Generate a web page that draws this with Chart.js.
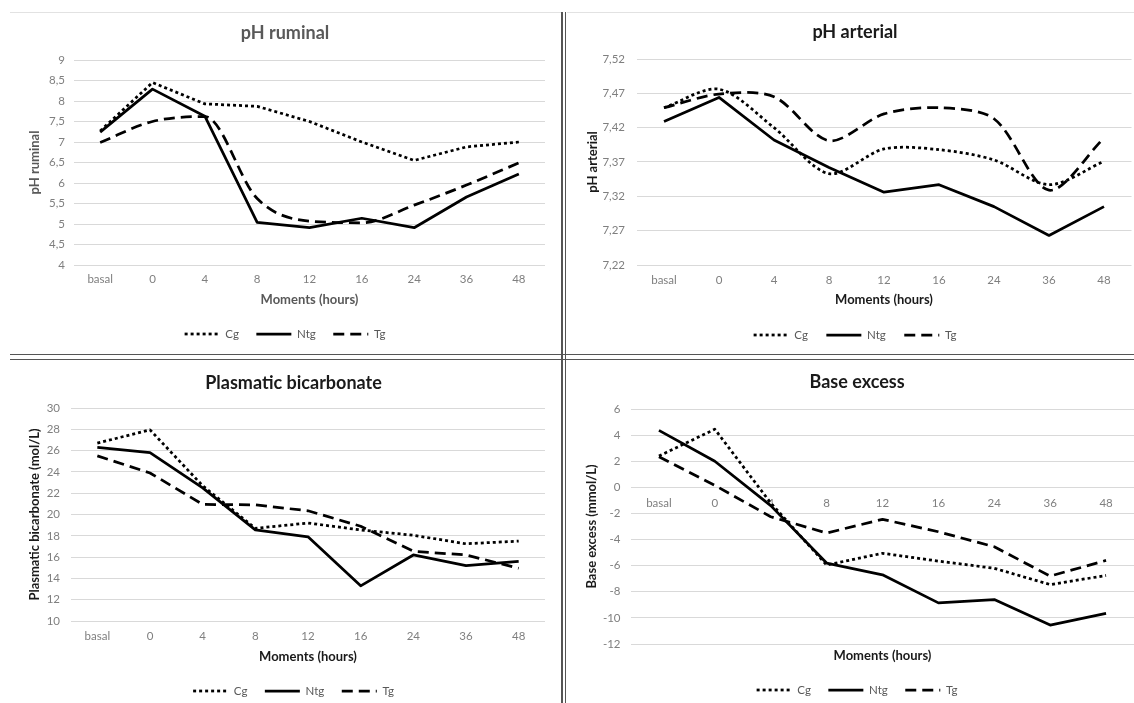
<!DOCTYPE html>
<html><head><meta charset="utf-8">
<script src="https://cdn.jsdelivr.net/npm/chart.js@4.4.1/dist/chart.umd.min.js"></script>
<style>
html,body{margin:0;padding:0;background:#fff;width:1134px;height:703px;overflow:hidden;}
.panel{position:absolute;}
.rule{position:absolute;}
</style></head><body>
<div class="rule" style="left:10px;top:12px;width:551px;height:1px;background:#e2e2e2"></div>
<div class="rule" style="left:567px;top:12px;width:567px;height:1px;background:#e2e2e2"></div>
<div class="rule" style="left:561px;top:12px;width:1.5px;height:691px;background:#555"></div>
<div class="rule" style="left:564.5px;top:12px;width:1.5px;height:691px;background:#555"></div>
<div class="rule" style="left:10px;top:353.5px;width:1124px;height:1.5px;background:#555"></div>
<div class="rule" style="left:10px;top:358.5px;width:1124px;height:1.5px;background:#555"></div>

<div class="panel" style="left:0;top:13px;width:561px;height:340px"><canvas id="c1"></canvas></div>
<div class="panel" style="left:566px;top:13px;width:568px;height:340px"><canvas id="c2"></canvas></div>
<div class="panel" style="left:0;top:361px;width:561px;height:342px"><canvas id="c3"></canvas></div>
<div class="panel" style="left:566px;top:361px;width:568px;height:342px"><canvas id="c4"></canvas></div>

<script>
// ---------- data ----------
const moments = ['basal', '0', '4', '8', '12', '16', '24', '36', '48'];
const seriesNames = ['Cg', 'Ntg', 'Tg'];

const ruminalCg  = [7.27, 8.45, 7.93, 7.87, 7.50, 7.00, 6.55, 6.88, 7.00];
const ruminalNtg = [7.24, 8.29, 7.63, 5.04, 4.91, 5.14, 4.91, 5.66, 6.22];
const ruminalTg  = [6.99, 7.50, 7.62, 5.62, 5.07, 5.03, 5.46, 5.95, 6.49];
const ruminalTicks = [4, 4.5, 5, 5.5, 6, 6.5, 7, 7.5, 8, 8.5, 9];

const arterialCg  = [7.449, 7.476, 7.420, 7.353, 7.389, 7.388, 7.373, 7.337, 7.371];
const arterialNtg = [7.429, 7.464, 7.402, 7.362, 7.326, 7.337, 7.305, 7.263, 7.305];
const arterialTg  = [7.449, 7.469, 7.465, 7.401, 7.440, 7.449, 7.433, 7.329, 7.405];
const arterialTicks = [7.22, 7.27, 7.32, 7.37, 7.42, 7.47, 7.52];

const bicarbCg  = [26.7, 27.95, 22.7, 18.7, 19.2, 18.55, 18.05, 17.25, 17.5];
const bicarbNtg = [26.3, 25.8, 22.5, 18.55, 17.9, 13.3, 16.2, 15.2, 15.6];
const bicarbTg  = [25.5, 23.9, 20.95, 20.9, 20.35, 18.9, 16.55, 16.2, 14.95];
const bicarbTicks = [10, 12, 14, 16, 18, 20, 22, 24, 26, 28, 30];

const baseCg  = [2.4, 4.45, -1.2, -5.95, -5.05, -5.65, -6.2, -7.45, -6.75];
const baseNtg = [4.36, 2.0, -1.4, -5.8, -6.7, -8.85, -8.6, -10.55, -9.65];
const baseTg  = [2.35, 0.15, -2.25, -3.5, -2.45, -3.4, -4.55, -6.8, -5.6];
const baseTicks = [-12, -10, -8, -6, -4, -2, 0, 2, 4, 6];

// ---------- styling / builder ----------
const FAM = 'Lato, "Open Sans", sans-serif';
const LINE_W = 2.75;
const lineStyles = [
  { borderDash: [3, 3], borderCapStyle: 'butt' },
  { borderDash: [], borderCapStyle: 'butt' },
  { borderDash: [11, 6], borderCapStyle: 'butt' }
];
const comma = v => String(+v.toFixed(2)).replace('.', ',');

function build(id, g, d) {
  const TF = 18, TLH = TF * 1.2;
  const AF = 13, ALH = AF * 1.2;
  const KF = 11.5, KLH = KF * 1.2;
  const LF = 11.5;
  const lpad = g.lpad !== undefined ? g.lpad : 2 * g.titleX - g.areaR;
  const rpad = g.W - g.areaR;
  const tPadTop = g.titleY - TLH / 2;
  const tPadBot = g.areaT - tPadTop - TLH;
  const yWidth = g.areaL - lpad;
  const yTitlePad = g.yTitleX - lpad - ALH / 2;
  const yTickPad = g.areaL - g.tickRight;
  let xTickPad;
  const xTitlePadBot = 3;
  const Hx = g.xTitleY - g.areaB + ALH / 2 + xTitlePadBot;
  if (g.zeroAxis) {
    const zeroPix = g.areaT + (d.yMax - 0) / (d.yMax - d.yMin) * (g.areaB - g.areaT);
    xTickPad = g.xLabelY - zeroPix - KLH / 2;
  } else {
    xTickPad = g.xLabelY - g.areaB - KLH / 2;
  }
  const legTop = g.areaB + Hx;
  const legPad = g.legendY - legTop - LF / 2;
  const natural = LF + legPad + 10;
  const avail = g.H - legTop;
  const legH = Math.min(natural, avail);
  const botPad = avail - legH;

  const tickFont = { family: FAM, size: KF };
  const axisTitleFont = { family: FAM, size: AF, weight: 'bold' };

  const scales = {
    y: {
      min: d.yMin, max: d.yMax,
      afterBuildTicks: s => { s.ticks = d.ticks.map(v => ({ value: v })); },
      afterFit: s => { s.width = yWidth; },
      grid: { color: '#d9d9d9', lineWidth: 1, drawTicks: false },
      border: { display: false },
      ticks: { color: '#7f7f7f', font: tickFont, padding: yTickPad, crossAlign: 'near', callback: v => comma(v) },
      title: { display: true, text: d.yTitle, color: d.axisColor, font: axisTitleFont, padding: { top: yTitlePad, bottom: 0 } }
    }
  };
  const xTitle = { display: true, text: 'Moments (hours)', color: d.axisColor, font: axisTitleFont, padding: { top: 0, bottom: xTitlePadBot } };
  if (g.zeroAxis) {
    scales.x = {
      position: { y: 0 }, offset: true,
      grid: { display: false, drawTicks: false }, border: { display: false },
      ticks: { color: '#7f7f7f', font: tickFont, padding: xTickPad, maxRotation: 0, autoSkip: false },
      title: { display: false }
    };
    scales.x2 = {
      type: 'category', labels: moments, position: 'bottom', offset: true,
      grid: { display: false, drawTicks: false }, border: { display: false },
      ticks: { display: false },
      title: xTitle,
      afterFit: s => { s.height = Hx; }
    };
  } else {
    scales.x = {
      offset: true,
      grid: { display: false, drawTicks: false }, border: { display: false },
      ticks: { color: '#7f7f7f', font: tickFont, padding: xTickPad, maxRotation: 0, autoSkip: false },
      title: xTitle,
      afterFit: s => { s.height = Hx; }
    };
  }

  return new Chart(document.getElementById(id), {
    type: 'line',
    data: {
      labels: moments,
      datasets: d.series.map((vals, i) => Object.assign({
        label: seriesNames[i], data: vals, xAxisID: 'x', yAxisID: 'y',
        borderColor: '#000', backgroundColor: 'rgba(0,0,0,0)', borderWidth: LINE_W,
        pointRadius: 0, pointHoverRadius: 0, fill: false, borderJoinStyle: 'round',
        tension: d.tension[i], cubicInterpolationMode: d.mono && d.mono[i] ? 'monotone' : 'default'
      }, lineStyles[i]))
    },
    options: {
      responsive: true, maintainAspectRatio: false, animation: false, events: [],
      layout: { padding: { left: lpad, right: rpad, top: 0, bottom: botPad } },
      plugins: {
        title: { display: true, text: d.title, color: d.titleColor, font: { family: FAM, size: TF, weight: 'bold', lineHeight: 1.2 }, padding: { top: tPadTop, bottom: tPadBot } },
        legend: { position: 'bottom', maxHeight: legH,
          labels: {
            usePointStyle: true, pointStyle: 'line', pointStyleWidth: 35, padding: legPad, color: '#595959', font: { family: FAM, size: LF },
            generateLabels: chart => chart.data.datasets.map((ds, i) => ({
              text: ds.label, datasetIndex: i, hidden: false,
              fillStyle: 'rgba(0,0,0,0)', strokeStyle: '#000', lineWidth: LINE_W,
              lineDash: ds.borderDash, lineDashOffset: 0, lineCap: 'butt', lineJoin: 'miter',
              pointStyle: 'line', rotation: 0, fontColor: '#595959'
            }))
          } },
        tooltip: { enabled: false }
      },
      scales
    }
  });
}

build('c1',
  { W: 561, H: 340, areaL: 74, areaR: 545, areaT: 47, areaB: 252, titleX: 285, titleY: 20, yTitleX: 35, tickRight: 65, xLabelY: 266, xTitleY: 287, legendY: 321 },
  { series: [ruminalCg, ruminalNtg, ruminalTg], ticks: ruminalTicks, yMin: 4, yMax: 9, title: 'pH ruminal', yTitle: 'pH ruminal',
    titleColor: '#595959', axisColor: '#595959', tension: [0, 0, 0.4], mono: [false, false, true] });

build('c2',
  { W: 568, H: 340, areaL: 70.5, areaR: 565.5, areaT: 46, areaB: 252, titleX: 289, titleY: 19, yTitleX: 27, tickRight: 59, xLabelY: 267, xTitleY: 287, legendY: 322 },
  { series: [arterialCg, arterialNtg, arterialTg], ticks: arterialTicks, yMin: 7.22, yMax: 7.52, title: 'pH arterial', yTitle: 'pH arterial',
    titleColor: '#1a1a1a', axisColor: '#1a1a1a', tension: [0.3, 0, 0.3] });

build('c3',
  { W: 561, H: 342, areaL: 71, areaR: 545, areaT: 47, areaB: 260, titleX: 300, titleY: 22, yTitleX: 35, tickRight: 60, xLabelY: 275, xTitleY: 296, legendY: 330, lpad: 42 },
  { series: [bicarbCg, bicarbNtg, bicarbTg], ticks: bicarbTicks, yMin: 10, yMax: 30, title: 'Plasmatic bicarbonate', yTitle: 'Plasmatic bicarbonate (mol/L)',
    titleColor: '#1a1a1a', axisColor: '#1a1a1a', tension: [0, 0, 0] });

build('c4',
  { W: 568, H: 342, areaL: 65, areaR: 568, areaT: 48, areaB: 283, titleX: 291, titleY: 21, yTitleX: 26, tickRight: 54.5, xLabelY: 142, xTitleY: 295, legendY: 329, zeroAxis: true },
  { series: [baseCg, baseNtg, baseTg], ticks: baseTicks, yMin: -12, yMax: 6, title: 'Base excess', yTitle: 'Base excess (mmol/L)',
    titleColor: '#1a1a1a', axisColor: '#1a1a1a', tension: [0, 0, 0] });
</script>
</body></html>
